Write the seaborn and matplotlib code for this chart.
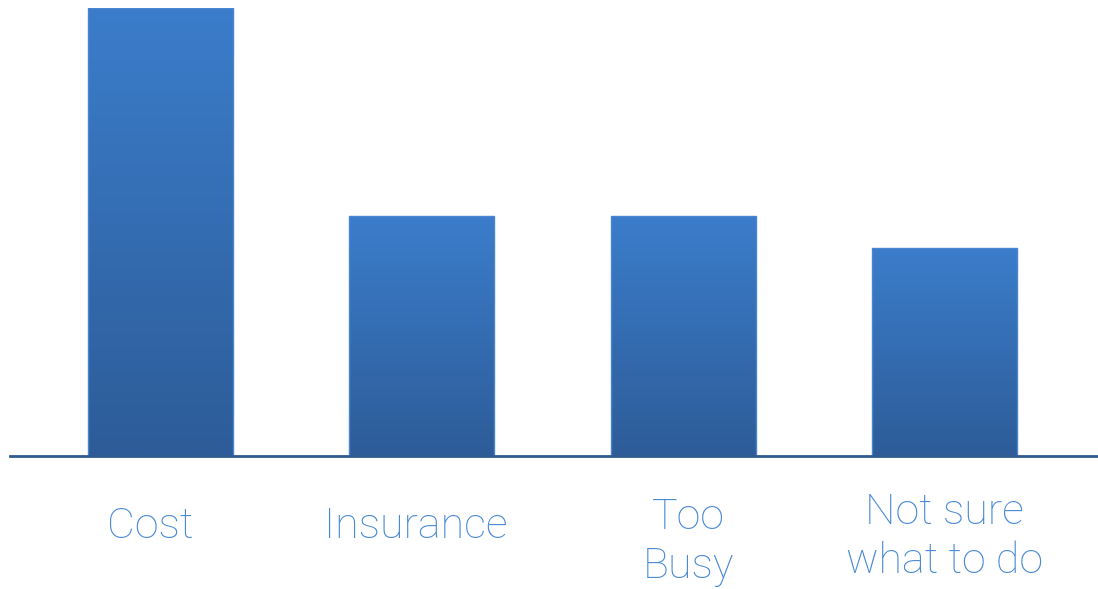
import matplotlib.pyplot as plt
import matplotlib.colors as mcolors
import seaborn as sns
import pandas as pd
import numpy as np

# Data
categories = ["Cost", "Insurance", "Too\nBusy", "Not sure\nwhat to do"]
values = [28, 15, 15, 13]
label_offsets = [-10, -6, 5, 0]     # small horizontal nudges of labels (px)
label_y = [527, 527, 542, 537]      # vertical centres of labels (px from top)

df = pd.DataFrame({"reason": categories, "count": values})

sns.set_style("white")
plt.rcParams["font.family"] = ["Roboto", "DejaVu Sans"]

fig = plt.figure(figsize=(10.98, 5.89), dpi=100)
W, H = 1098, 589
ax = fig.add_axes([10 / W, 1 - 456 / H, 1 - 10 / W, (456 - 8) / H])

sns.barplot(data=df, x="reason", y="count", width=0.555, color="#3a7bc8",
            edgecolor="#4a86d0", linewidth=1, ax=ax)

# Vertical gradient fill clipped to each bar
cmap = mcolors.LinearSegmentedColormap.from_list("bar", ["#2d5c98", "#3b7dcb"])
grad = np.linspace(0, 1, 256).reshape(-1, 1)
for patch in ax.patches:
    x0, y0 = patch.get_x(), patch.get_y()
    w, h = patch.get_width(), patch.get_height()
    im = ax.imshow(grad, cmap=cmap, aspect="auto", origin="lower",
                   extent=[x0, x0 + w, y0, y0 + h], zorder=patch.get_zorder() + 0.1)
    im.set_clip_path(patch)
    patch.set_facecolor("none")
    patch.set_zorder(patch.get_zorder() + 0.2)
ax.set_xlim(-0.576, 3.587)
ax.set_ylim(0, 28)

sns.despine(ax=ax, left=True)
ax.spines["bottom"].set_color("#2f5a8f")
ax.spines["bottom"].set_linewidth(2)
ax.set_yticks([])
ax.set_xticks([])
ax.set_xlabel("")
ax.set_ylabel("")

# Category labels below the baseline
for i, (lab, dx, yc) in enumerate(zip(categories, label_offsets, label_y)):
    ax.annotate(lab, xy=(i, 0), xycoords="data",
                xytext=(dx * 72 / 100, -(yc - 456) * 72 / 100), textcoords="offset points",
                ha="center", va="center", fontsize=31, fontweight="light",
                color="#4a8ad6", linespacing=1.25, annotation_clip=False)

fig.savefig("out.png", dpi=100)
